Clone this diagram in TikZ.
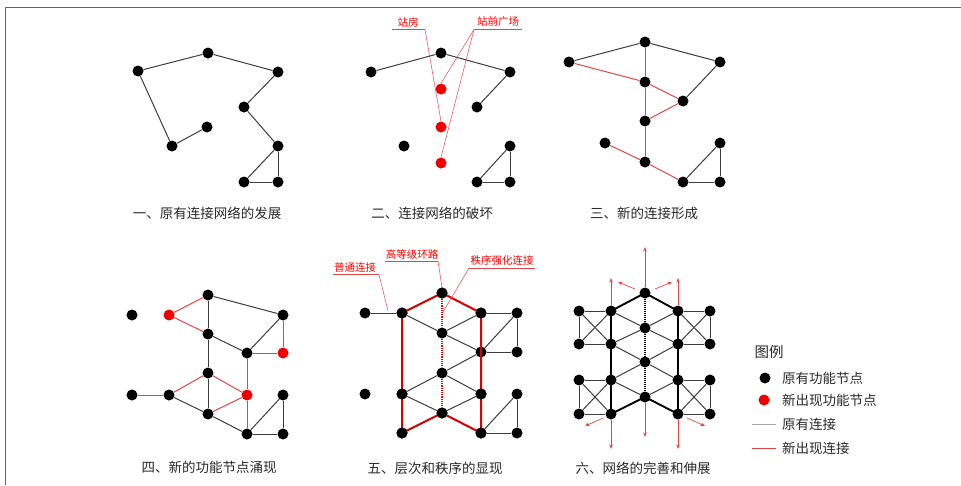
\documentclass[tikz,border=0pt]{standalone}
\usepackage{fontspec}
\newfontfamily\cjk{Noto Sans CJK SC}
\usetikzlibrary{arrows.meta}
\definecolor{ered}{RGB}{225,70,70}
\definecolor{nred}{RGB}{240,0,0}
\definecolor{egray}{RGB}{60,60,60}
\definecolor{txt}{RGB}{40,40,40}
\definecolor{framecol}{RGB}{100,100,100}
\begin{document}
\begin{tikzpicture}[x=1pt,y=-1pt,
  nb/.style={circle,fill=black,inner sep=0pt,minimum size=11pt},
  nr/.style={circle,fill=nred,inner sep=0pt,minimum size=11pt},
  eb/.style={draw=egray,line width=1pt},
  er/.style={draw=ered,line width=1pt},
  ebt/.style={draw=black,line width=1.9pt},
  ert/.style={draw=nred!90!black,line width=2pt},
  lead/.style={draw=ered,line width=0.5pt},
  arr/.style={draw=ered,line width=0.7pt,-{Stealth[length=4.5pt,width=3.5pt]}},
  captxt/.style={font=\cjk\fontsize{13.5}{14}\selectfont,text=txt,inner sep=0pt},
  lab/.style={font=\cjk\fontsize{10.5}{11}\selectfont,text=red,inner sep=0pt},
  leg/.style={font=\cjk\fontsize{13.5}{14}\selectfont,text=txt,inner sep=0pt,anchor=west}]
\useasboundingbox (0,0) rectangle (961,485);
% frame
\coordinate (f1) at (5.5,485); \coordinate (f2) at (5.5,7.5); \coordinate (f3) at (961,7.5);
\draw[framecol,line width=1.6pt] (f1) -- (f2) -- (f3);

% ---------- Panel 1 ----------
\node[nb] (a1) at (138,71) {};
\node[nb] (a2) at (208,53) {};
\node[nb] (a3) at (278,72) {};
\node[nb] (a4) at (244,107) {};
\node[nb] (a5) at (207,127) {};
\node[nb] (a6) at (172,146) {};
\node[nb] (a7) at (278,146) {};
\node[nb] (a8) at (244,182) {};
\node[nb] (a9) at (278,182) {};
\draw[eb] (a1)--(a2); \draw[eb] (a2)--(a3); \draw[eb] (a3)--(a4); \draw[eb] (a4)--(a7);
\draw[eb] (a1)--(a6); \draw[eb] (a6)--(a5); \draw[eb] (a7)--(a8); \draw[eb] (a7)--(a9); \draw[eb] (a8)--(a9);
\node[captxt] (c1) at (207,213) {一、原有连接网络的发展};

% ---------- Panel 2 ----------
\node[nb] (b1) at (371,72) {};
\node[nb] (b2) at (441,53) {};
\node[nb] (b3) at (510,72) {};
\node[nb] (b4) at (477,107) {};
\node[nb] (b5) at (404,146) {};
\node[nr] (br1) at (441,89) {};
\node[nr] (br2) at (441,127) {};
\node[nr] (br3) at (441,163) {};
\node[nb] (b7) at (510,146) {};
\node[nb] (b8) at (477,182) {};
\node[nb] (b9) at (510,182) {};
\draw[eb] (b1)--(b2); \draw[eb] (b2)--(b3); \draw[eb] (b3)--(b4);
\draw[eb] (b7)--(b8); \draw[eb] (b7)--(b9); \draw[eb] (b8)--(b9);
\node[lab] (l21) at (408,22) {站房};
\node[lab] (l22) at (498,22) {站前广场};
\coordinate (u21a) at (392,29.5); \coordinate (u21b) at (425,29.5);
\coordinate (u22a) at (474,29.5); \coordinate (u22b) at (522,29.5);
\draw[lead] (u21a)--(u21b); \draw[lead] (u22a)--(u22b);
\draw[lead] (u21b)--(br2.north);
\draw[lead] (u22a)--(br1.north);
\draw[lead] (u22a)--(br3.north);
\node[captxt] (c2) at (432,213) {二、连接网络的破坏};

% ---------- Panel 3 ----------
\node[nb] (d1) at (569,62) {};
\node[nb] (d2) at (645,42) {};
\node[nb] (d3) at (720,62) {};
\node[nb] (d4) at (645,82) {};
\node[nb] (d5) at (683,101) {};
\node[nb] (d6) at (645,121) {};
\node[nb] (d7) at (605,143) {};
\node[nb] (d8) at (720,143) {};
\node[nb] (d9) at (645,162) {};
\node[nb] (d10) at (683,182) {};
\node[nb] (d11) at (720,182) {};
\draw[eb] (d1)--(d2); \draw[eb] (d2)--(d3); \draw[eb] (d3)--(d5);
\draw[eb] (d10)--(d8); \draw[eb] (d10)--(d11); \draw[eb] (d8)--(d11);
\draw[er] (d1)--(d4); \draw[er] (d2)--(d4); \draw[er] (d4)--(d6); \draw[er] (d6)--(d9);
\draw[er] (d4)--(d5); \draw[er] (d5)--(d6); \draw[er] (d7)--(d9); \draw[er] (d9)--(d10);
\node[captxt] (c3) at (644,213) {三、新的连接形成};

% ---------- Panel 4 ----------
\node[nb] (e1) at (132,315) {};
\node[nr] (er1) at (169,315) {};
\node[nb] (e2) at (208,295) {};
\node[nb] (e3) at (283,315) {};
\node[nb] (e4) at (208,334) {};
\node[nb] (e5) at (247,353) {};
\node[nr] (er2) at (283,353) {};
\node[nb] (e6) at (208,373) {};
\node[nb] (e7) at (132,395) {};
\node[nb] (e8) at (169,395) {};
\node[nr] (er3) at (247,395) {};
\node[nb] (e9) at (283,395) {};
\node[nb] (e10) at (208,414) {};
\node[nb] (e11) at (247,434) {};
\node[nb] (e12) at (283,434) {};
\draw[eb] (e2)--(e3); \draw[eb] (e2)--(e4); \draw[eb] (e4)--(e5); \draw[eb] (e5)--(e3);
\draw[eb] (e4)--(e6); \draw[eb] (e6)--(e10); \draw[eb] (e8)--(e10); \draw[eb] (e10)--(e11);
\draw[eb] (e11)--(e9); \draw[eb] (e11)--(e12); \draw[eb] (e9)--(e12);
\draw[er] (er1)--(e2); \draw[er] (er1)--(e4); \draw[er] (e3)--(er2); \draw[er] (e5)--(er2);
\draw[er] (e5)--(er3); \draw[er] (er3)--(e11); \draw[er] (e6)--(er3); \draw[er] (e10)--(er3);
\draw[er] (e7)--(e8); \draw[er] (e8)--(e6);
\node[captxt] (c4) at (209,467) {四、新的功能节点涌现};

% ---------- Panel 5 ----------
\node[nb] (g1) at (365,313) {};
\node[nb] (g2) at (402,313) {};
\node[nb] (gt) at (442,293) {};
\node[nb] (g3) at (481,313) {};
\node[nb] (g4) at (517,313) {};
\node[nb] (gm1) at (442,333) {};
\node[nb] (g6) at (481,352) {};
\node[nb] (g7) at (517,352) {};
\node[nb] (gm2) at (442,373) {};
\node[nb] (g8) at (365,394) {};
\node[nb] (g9) at (402,394) {};
\node[nb] (g10) at (481,394) {};
\node[nb] (g11) at (517,394) {};
\node[nb] (gm3) at (442,413) {};
\node[nb] (g12) at (402,433) {};
\node[nb] (g13) at (481,433) {};
\node[nb] (g14) at (517,433) {};
\draw[eb] (g1)--(g2); \draw[eb] (g2)--(gm1); \draw[eb] (gm1)--(g3); \draw[eb] (gm1)--(g6);
\draw[eb] (g3)--(g4); \draw[eb] (g6)--(g4); \draw[eb] (g4)--(g7); \draw[eb] (g6)--(g7);
\draw[eb] (g6)--(gm2); \draw[eb] (gm2)--(g9); \draw[eb] (gm2)--(g10);
\draw[eb] (g9)--(gm3); \draw[eb] (gm3)--(g10); \draw[eb] (g11)--(g13); \draw[eb] (g11)--(g14); \draw[eb] (g13)--(g14);
\draw[eb] (g2)--(g9); \draw[eb] (g3)--(g10);
\draw[draw=nred,line width=2pt,dash pattern=on 1.3pt off 0.9pt] (gt)--(gm1);
\draw[draw=nred,line width=2pt,dash pattern=on 1.3pt off 0.9pt] (gm1)--(gm2);
\draw[draw=nred,line width=2pt,dash pattern=on 1.3pt off 0.9pt] (gm2)--(gm3);
\draw[ert,line join=round] (g2.center)--(gt.center)--(g3.center)--(g13.center)--(gm3.center)--(g12.center)--cycle;
\node[nb] at (g2) {}; \node[nb] at (gt) {}; \node[nb] at (g3) {}; \node[nb] at (g9) {}; \node[nb] at (g10) {};
\node[nb] at (g12) {}; \node[nb] at (g13) {}; \node[nb] at (gm3) {};
\node[lab] (l51) at (355,268) {普通连接};
\node[lab] (l52) at (412,254) {高等级环路};
\node[lab] (l53) at (502,261) {秩序强化连接};
\coordinate (u51a) at (333,274.5); \coordinate (u51b) at (379,274.5);
\coordinate (u52a) at (385,261); \coordinate (u52b) at (438,261);
\coordinate (u53a) at (469,268); \coordinate (u53b) at (535,268);
\coordinate (t51) at (388,311); \coordinate (t53) at (443,312);
\draw[lead] (u51a)--(u51b); \draw[lead] (u52a)--(u52b); \draw[lead] (u53a)--(u53b);
\draw[lead] (u51b)--(t51); \draw[lead] (u52b)--(gt.north); \draw[lead] (u53a)--(t53);
\node[captxt] (c5) at (435,468) {五、层次和秩序的显现};

% ---------- Panel 6 ----------
\node[nb] (h1) at (579,311) {};
\node[nb] (h2) at (611,311) {};
\node[nb] (ht) at (645,293) {};
\node[nb] (h3) at (678,311) {};
\node[nb] (h4) at (710,311) {};
\node[nb] (h5) at (579,344) {};
\node[nb] (h6) at (611,344) {};
\node[nb] (hm1) at (645,328) {};
\node[nb] (h7) at (678,344) {};
\node[nb] (h8) at (710,344) {};
\node[nb] (hm2) at (645,362) {};
\node[nb] (h9) at (579,380) {};
\node[nb] (h10) at (611,380) {};
\node[nb] (h11) at (678,380) {};
\node[nb] (h12) at (710,380) {};
\node[nb] (hm3) at (645,397) {};
\node[nb] (h13) at (579,414) {};
\node[nb] (h14) at (611,414) {};
\node[nb] (h15) at (678,414) {};
\node[nb] (h16) at (710,414) {};
% side squares with crosses
\foreach \p/\q/\r/\s in {h1/h2/h5/h6, h3/h4/h7/h8, h9/h10/h13/h14, h11/h12/h15/h16}{
  \draw[eb] (\p)--(\q); \draw[eb] (\r)--(\s); \draw[eb] (\p)--(\r); \draw[eb] (\q)--(\s);
  \draw[eb] (\p)--(\s); \draw[eb] (\q)--(\r);
}
\draw[eb] (h6)--(h10); \draw[eb] (h7)--(h11);
% lattice
\draw[eb] (h2)--(hm1); \draw[eb] (hm1)--(h3); \draw[eb] (h6)--(hm1); \draw[eb] (hm1)--(h7);
\draw[eb] (h6)--(hm2); \draw[eb] (hm2)--(h7); \draw[eb] (h10)--(hm2); \draw[eb] (hm2)--(h11);
\draw[eb] (h10)--(hm3); \draw[eb] (hm3)--(h11);
\draw[draw=black,line width=1.6pt,dash pattern=on 1pt off 1pt] (ht)--(hm1);
\draw[draw=black,line width=1.6pt,dash pattern=on 1pt off 1pt] (hm1)--(hm2);
\draw[draw=black,line width=1.6pt,dash pattern=on 1pt off 1pt] (hm2)--(hm3);
\draw[ebt,line join=round] (h2.center)--(ht.center)--(h3.center)--(h15.center)--(hm3.center)--(h14.center)--cycle;
% arrows
\coordinate (x1) at (645,247); \coordinate (x2) at (611,278); \coordinate (x3) at (678,278);
\coordinate (x4s) at (635,289); \coordinate (x4) at (618,282);
\coordinate (x5s) at (655,289); \coordinate (x5) at (672,282);
\coordinate (x6) at (611,449); \coordinate (x7) at (645,437); \coordinate (x8) at (678,449);
\coordinate (x9s) at (603,418); \coordinate (x9) at (585,426);
\coordinate (x10s) at (687,418); \coordinate (x10) at (705,426);
\draw[arr] (ht)--(x1); \draw[arr] (h2)--(x2); \draw[arr] (h3)--(x3);
\draw[arr] (x4s)--(x4); \draw[arr] (x5s)--(x5);
\draw[arr] (h14)--(x6); \draw[arr] (hm3)--(x7); \draw[arr] (h15)--(x8);
\draw[arr] (x9s)--(x9); \draw[arr] (x10s)--(x10);
\node[captxt] (c6) at (643,468) {六、网络的完善和伸展};

% ---------- Legend ----------
\node[font=\cjk\fontsize{14.5}{15}\selectfont,text=txt,inner sep=0pt] (lgt) at (769,352) {图例};
\node[nb] (lg1) at (765,378) {};
\node[leg] (lg1t) at (782,378) {原有功能节点};
\node[nr] (lg2) at (764,400) {};
\node[leg] (lg2t) at (782,400) {新出现功能节点};
\coordinate (lg3a) at (752,424); \coordinate (lg3b) at (776,424);
\draw[draw=gray!70,line width=0.8pt] (lg3a)--(lg3b);
\node[leg] (lg3t) at (782,424) {原有连接};
\coordinate (lg4a) at (752,448); \coordinate (lg4b) at (776,448);
\draw[er,line width=0.8pt] (lg4a)--(lg4b);
\node[leg] (lg4t) at (782,448) {新出现连接};
\end{tikzpicture}
\end{document}
